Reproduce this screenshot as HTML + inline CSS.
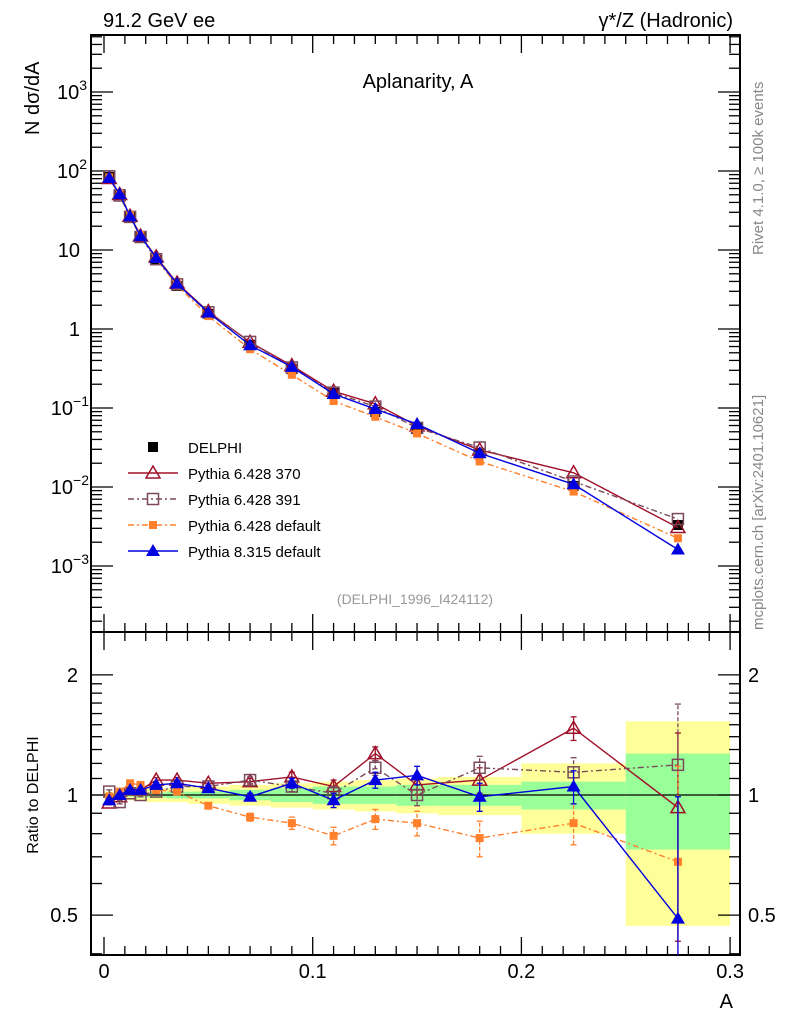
<!DOCTYPE html>
<html><head><meta charset="utf-8">
<style>
body{margin:0;background:#fff;}
svg{display:block;font-family:"Liberation Sans",sans-serif;}
</style></head>
<body>
<svg id="c" width="786" height="1024" viewBox="0 0 786 1024">
<text x="103" y="27" font-size="20">91.2 GeV ee</text>
<text x="733" y="27" font-size="20" text-anchor="end">γ*/Z (Hadronic)</text>
<text x="418" y="88" font-size="20" text-anchor="middle">Aplanarity, A</text>
<text transform="translate(39,135) rotate(-90)" font-size="20">N  dσ/dA</text>
<text transform="translate(763,255) rotate(-90)" font-size="15" fill="#888">Rivet 4.1.0, ≥ 100k events</text>
<text transform="translate(763,630) rotate(-90)" font-size="15" fill="#888">mcplots.cern.ch [arXiv:2401.10621]</text>
<text x="415" y="604" font-size="14" fill="#999" text-anchor="middle">(DELPHI_1996_I424112)</text>
<text transform="translate(38,795) rotate(-90)" font-size="16" text-anchor="middle">Ratio to DELPHI</text>
<text x="733" y="1008" font-size="20" text-anchor="end">A</text>
<g id="g"></g>
</svg>
<script>
const edges=[0,0.005,0.01,0.015,0.02,0.03,0.04,0.06,0.08,0.1,0.12,0.14,0.16,0.2,0.25,0.3];
const xCenters=[0.0025,0.0075,0.0125,0.0175,0.025,0.035,0.05,0.07,0.09,0.11,0.13,0.15,0.18,0.225,0.275];
const delphi=[84,51,26,14.6,7.5,3.5,1.55,0.63,0.31,0.155,0.089,0.056,0.027,0.0103,0.0033];
const bandStat=[0.01,0.01,0.01,0.015,0.015,0.02,0.02,0.03,0.04,0.05,0.05,0.06,0.06,0.08,0.27];
const bandTot=[0.02,0.02,0.03,0.03,0.04,0.04,0.05,0.06,0.07,0.08,0.09,0.10,0.11,0.2,0.53];
const r370=[0.955,0.99,1.03,1.03,1.09,1.09,1.07,1.08,1.11,1.05,1.27,1.06,1.09,1.47,0.93];
const r391=[1.02,0.96,1.01,1.0,1.02,1.05,1.05,1.09,1.05,1.01,1.17,1.0,1.17,1.14,1.19];
const rdef6=[0.99,1.02,1.07,1.06,1.03,1.02,0.94,0.88,0.85,0.79,0.87,0.85,0.78,0.85,0.68];
const r8=[0.97,1.0,1.03,1.03,1.06,1.07,1.04,0.99,1.07,0.97,1.09,1.12,0.99,1.05,0.49];
const rErr=[0.01,0.01,0.01,0.01,0.015,0.015,0.015,0.02,0.03,0.04,0.05,0.06,0.08,0.1,0.5];
const NS="http://www.w3.org/2000/svg";
const g=document.getElementById('g');
const L=91,R=740,T=35,MB=632,RB=955;
const xs=x=>104+x*2087;
const ym=v=>329-79*Math.log10(v);
const yr=v=>795-399*Math.log10(v);
function el(t,a,p){const e=document.createElementNS(NS,t);for(const k in a)e.setAttribute(k,a[k]);(p||g).appendChild(e);return e;}
for(let i=0;i<xCenters.length;i++){
 const x0=xs(edges[i]),x1=xs(edges[i+1]);
 const b=el('rect',{x:x0,y:yr(1+bandTot[i]),width:x1-x0,height:yr(1-bandTot[i])-yr(1+bandTot[i]),fill:'#ffff99'});
 
 
 const s=el('rect',{x:x0,y:yr(1+bandStat[i]),width:x1-x0,height:yr(1-bandStat[i])-yr(1+bandStat[i]),fill:'#99ff99'});
 
 
}
el('line',{x1:L,x2:R,y1:yr(1),y2:yr(1),stroke:'#000','stroke-width':1.3});
const f1=el('rect',{x:L,y:T,width:R-L,height:MB-T,fill:'none',stroke:'#000','stroke-width':2});


const f2=el('rect',{x:L,y:MB,width:R-L,height:RB-MB,fill:'none',stroke:'#000','stroke-width':2});


for(let k=0;k<=30;k++){
 const x=xs(k/100);const maj=k%10==0;const len=maj?18:9;
 [T,MB].forEach(y=>el('line',{x1:x,x2:x,y1:y,y2:y+len,stroke:'#000','stroke-width':1.3}));
 [MB,RB].forEach(y=>el('line',{x1:x,x2:x,y1:y,y2:y-len,stroke:'#000','stroke-width':1.3}));
}
const xLabels=['0','0.1','0.2','0.3'];
xLabels.forEach((t,i)=>{const e=el('text',{x:xs(i*0.1),y:978,'font-size':20,'text-anchor':'middle'});e.textContent=t;
 
 });
for(let d=-4;d<=3;d++){for(let m=1;m<10;m++){const v=m*Math.pow(10,d);const y=ym(v);if(y<T||y>MB)continue;
 const len=m==1?22:11;
 el('line',{x1:L,x2:L+len,y1:y,y2:y,stroke:'#000','stroke-width':1.3});
 el('line',{x1:R,x2:R-len,y1:y,y2:y,stroke:'#000','stroke-width':1.3});}}
const yLabels=[['10','3',1000],['10','2',100],['10','',10],['1','',1],['10','−1',0.1],['10','−2',0.01],['10','−3',0.001]];
yLabels.forEach(a=>{const e=el('text',{x:a[1]?(a[1].length>1?89:87):80,y:ym(a[2])+7,'font-size':20,'text-anchor':'end'});e.textContent=a[0];
 if(a[1]){const s=el('tspan',{dy:-9,'font-size':14},e);s.textContent=a[1];}
 
 });
[0.4,0.5,0.6,0.7,0.8,0.9,1,1.1,1.2,1.3,1.4,1.5,1.6,1.7,1.8,1.9,2].forEach(v=>{const y=yr(v);if(y>RB||y<MB)return;
 const maj=[0.5,1,2].includes(v);const len=maj?22:11;
 el('line',{x1:L,x2:L+len,y1:y,y2:y,stroke:'#000','stroke-width':1.3});
 el('line',{x1:R,x2:R-len,y1:y,y2:y,stroke:'#000','stroke-width':1.3});});
[['2',2],['1',1],['0.5',0.5]].forEach(a=>{[[78,'end'],[748,'start']].forEach(p=>{
 const e=el('text',{x:p[0],y:yr(a[1])+7,'font-size':20,'text-anchor':p[1]});e.textContent=a[0];
 
 });});
const series=[
 {n:'pythia6-370',r:r370,c:'#a0102a',dash:'',m:'otri'},
 {n:'pythia6-391',r:r391,c:'#7a4a5a',dash:'6,3,2,3',m:'osq'},
 {n:'pythia6-default',r:rdef6,c:'#ff7f2a',dash:'6,3,2,3',m:'fsq'},
 {n:'pythia8-default',r:r8,c:'#0000e0',dash:'',m:'ftri'}];
function marker(m,x,y,c,p){let e;
 if(m=='otri')e=el('path',{d:`M${x},${y-7}L${x+7},${y+5}L${x-7},${y+5}Z`,fill:'#fff','fill-opacity':0,stroke:c,'stroke-width':1.5},p);
 else if(m=='ftri')e=el('path',{d:`M${x},${y-7}L${x+7},${y+5}L${x-7},${y+5}Z`,fill:c},p);
 else if(m=='osq')e=el('rect',{x:x-5.5,y:y-5.5,width:11,height:11,fill:'none',stroke:c,'stroke-width':1.5},p);
 else if(m=='fsq')e=el('rect',{x:x-4,y:y-4,width:8,height:8,fill:c},p);
 else e=el('rect',{x:x-5,y:y-5,width:10,height:10,fill:'#000'},p);
 return e;}
delphi.forEach((v,i)=>{const e=marker('data',xs(xCenters[i]),ym(v),'#000');
 
 });
series.forEach(s=>{
 const gm=el('g',{});
 const mp=xCenters.map((x,i)=>xs(x)+','+ym(delphi[i]*s.r[i])).join(' ');
 el('polyline',{points:mp,fill:'none',stroke:s.c,'stroke-width':1.4,'stroke-dasharray':s.dash},gm);
 const rp=xCenters.map((x,i)=>xs(x)+','+yr(s.r[i])).join(' ');
 el('polyline',{points:rp,fill:'none',stroke:s.c,'stroke-width':1.4,'stroke-dasharray':s.dash},gm);
 xCenters.forEach((x,i)=>{
  const X=xs(x),v=s.r[i],e=rErr[i];
  const ylo=Math.min(yr(Math.max(v-e,0.3)),RB),yhi=yr(v+e);
  el('line',{x1:X,x2:X,y1:ylo,y2:yhi,stroke:s.c,'stroke-width':1.3,'stroke-dasharray':s.dash?'4,2':''},gm);
  el('line',{x1:X-3,x2:X+3,y1:yhi,y2:yhi,stroke:s.c,'stroke-width':1.3},gm);
  if(ylo<RB)el('line',{x1:X-3,x2:X+3,y1:ylo,y2:ylo,stroke:s.c,'stroke-width':1.3},gm);
  const mk=marker(s.m,X,ym(delphi[i]*v),s.c,gm);
  
  
  const mk2=marker(s.m,X,yr(v),s.c,gm);
  
  
 });
});
const legNames=['DELPHI','Pythia 6.428 370','Pythia 6.428 391','Pythia 6.428 default','Pythia 8.315 default'];
const legY=[447,473,499,525,551];
legNames.forEach((t,i)=>{
 const gl=el('g',{});
 
 
 const y=legY[i];
 if(i==0)marker('data',153,y,'#000',gl);
 else{const s=series[i-1];el('line',{x1:128,x2:178,y1:y,y2:y,stroke:s.c,'stroke-width':1.4,'stroke-dasharray':s.dash},gl);marker(s.m,153,y,s.c,gl);}
 const e=el('text',{x:188,y:y+6,'font-size':15},gl);e.textContent=t;
});
</script>
</body></html>
